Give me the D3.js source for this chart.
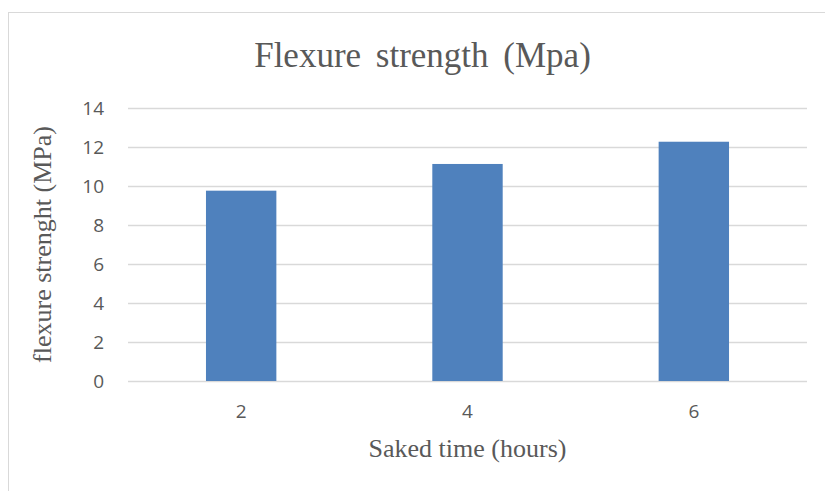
<!DOCTYPE html>
<html>
<head>
<meta charset="utf-8">
<script src="https://cdn.jsdelivr.net/npm/d3@7"></script>
<style>
  body { margin: 0; background: #fff; }
  svg { display: block; }
</style>
</head>
<body>
<svg id="chart" width="825" height="491"></svg>
<script>
// data
const hours = ["2", "4", "6"]
const strength = [9.76, 11.13, 12.27]
const yTicks = [0, 2, 4, 6, 8, 10, 12, 14]

const svg = d3.select("#chart")
const margin = {top: 108, right: 18, bottom: 110, left: 128}
const W = 825, H = 491
const plotW = W - margin.left - margin.right
const plotH = H - margin.top - margin.bottom

// chart border (runs off the right/bottom edge like the original)
svg.append("rect")
    .attr("x", 8.5).attr("y", 12.5)
    .attr("width", 840).attr("height", 500)
    .attr("fill", "#fff")
    .attr("stroke", "#d9d9d9")
    .attr("stroke-width", 1)

const g = svg.append("g").attr("transform", `translate(${margin.left},${margin.top})`)

const x = d3.scaleBand().domain(hours).range([0, plotW]).paddingInner(0.689).paddingOuter(0.3445)
const y = d3.scaleLinear().domain([0, 14]).range([plotH, 0])

//gridlines
g.append("g")
    .selectAll("line")
    .data(yTicks)
    .join("line")
    .attr("x1", 0).attr("x2", plotW)
    .attr("y1", d => Math.round(y(d)) + 0.5).attr("y2", d => Math.round(y(d)) + 0.5)
    .attr("stroke", "#d9d9d9")
    .attr("stroke-width", 1.3)

//bars
g.append("g")
    .selectAll("rect")
    .data(strength)
    .join("rect")
    .attr("x", (d, i) => x(hours[i]))
    .attr("y", d => y(d))
    .attr("width", x.bandwidth())
    .attr("height", d => plotH - y(d))
    .attr("fill", "#4f81bd")

//y axis labels
const yAxis = g.append("g")
    .attr("transform", "translate(-24,0)")
    .call(d3.axisLeft(y).tickValues(yTicks).tickSize(0).tickPadding(0))
yAxis.select(".domain").remove()
yAxis.selectAll("text")
    .attr("font-family", "'Open Sans', sans-serif")
    .attr("font-size", 19)
    .attr("fill", "#595959")

//x axis labels
const xAxis = g.append("g")
    .attr("transform", `translate(0,${plotH})`)
    .call(d3.axisBottom(x).tickSize(0).tickPadding(24))
xAxis.select(".domain").remove()
xAxis.selectAll("text")
    .attr("font-family", "'Open Sans', sans-serif")
    .attr("font-size", 19)
    .attr("fill", "#595959")

//titles
svg.append("text")
    .attr("x", 422.5).attr("y", 67)
    .attr("text-anchor", "middle")
    .attr("font-family", "'Liberation Serif', 'Times New Roman', serif")
    .attr("font-size", 35)
    .attr("word-spacing", 6)
    .attr("fill", "#595959")
    .text("Flexure strength (Mpa)")

svg.append("text")
    .attr("x", margin.left + plotW / 2).attr("y", 457)
    .attr("text-anchor", "middle")
    .attr("font-family", "'Liberation Serif', 'Times New Roman', serif")
    .attr("font-size", 26)
    .attr("fill", "#595959")
    .text("Saked time (hours)")

svg.append("text")
    .attr("transform", `translate(51,${margin.top + plotH / 2}) rotate(-90)`)
    .attr("text-anchor", "middle")
    .attr("font-family", "'Liberation Serif', 'Times New Roman', serif")
    .attr("font-size", 26)
    .attr("fill", "#595959")
    .text("flexure strenght (MPa)")
</script>
</body>
</html>
